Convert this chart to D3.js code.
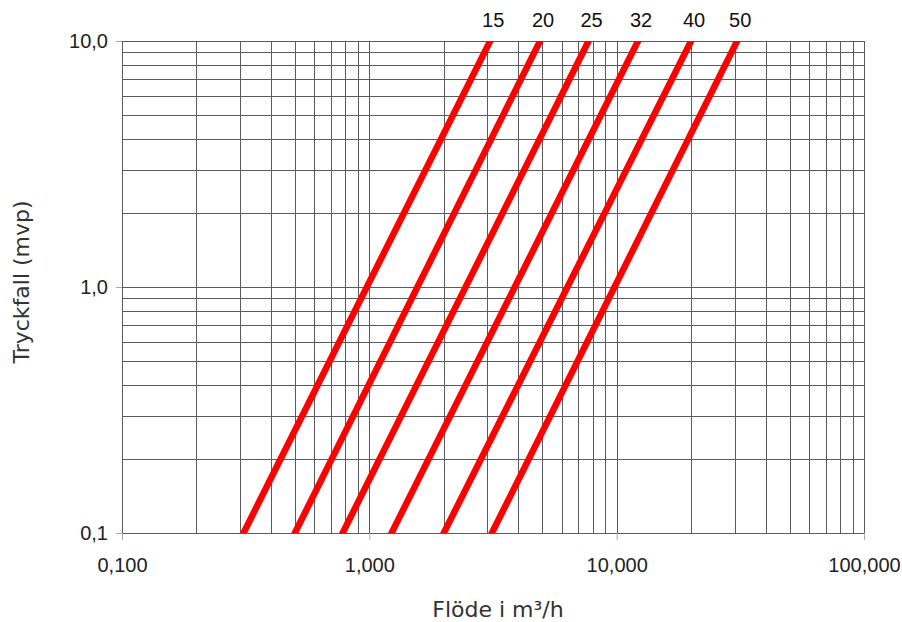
<!DOCTYPE html>
<html>
<head>
<meta charset="utf-8">
<script src="https://cdn.jsdelivr.net/npm/d3@7/dist/d3.min.js"></script>
<style>
  body { margin: 0; background: #fff; }
  svg { display: block; }
</style>
</head>
<body>
<div id="chart"></div>
<script>
// valve sizes (DN) and the flow (m3/h) read where each line hits 0.1 and 10 mvp
var sizes = ["15", "20", "25", "32", "40", "50"];
var flowAtLow = [0.31, 0.50, 0.78, 1.23, 2.0, 3.13];
var flowAtHigh = [3.08, 4.9, 7.7, 12.2, 20.0, 30.7];
var pressureEnds = [0.1, 10];

var xTickValues = [0.1, 1, 10, 100];
var xTickLabels = ["0,100", "1,000", "10,000", "100,000"];
var yTickValues = [0.1, 1, 10];
var yTickLabels = ["0,1", "1,0", "10,0"];

var width = 902, height = 622;
var margin = {top: 41, right: 38, bottom: 89, left: 122};
var plotW = width - margin.left - margin.right;
var plotH = height - margin.top - margin.bottom;

var x = d3.scaleLog().domain([0.1, 100]).range([0, plotW]);
var y = d3.scaleLog().domain([0.1, 10]).range([plotH, 0]);

var svg = d3.select("#chart").append("svg")
  .attr("width", width)
  .attr("height", height);

svg.append("defs").append("clipPath").attr("id", "plotclip")
  .append("rect").attr("width", plotW).attr("height", plotH);

var g = svg.append("g")
  .attr("transform", "translate(" + margin.left + "," + margin.top + ")");

// grid lines: every 1..9 step of each decade
var xGrid = [];
[0.1, 1, 10].forEach(function(d) { for (var i = 1; i <= 10; i++) xGrid.push(d * i); });
var yGrid = [];
[0.1, 1].forEach(function(d) { for (var i = 1; i <= 10; i++) yGrid.push(d * i); });

var snap = function(v) { return Math.round(v) + 0.5; };

g.selectAll(".vgrid").data(xGrid).enter().append("line")
  .attr("class", "vgrid")
  .attr("x1", function(d) { return snap(x(d)); })
  .attr("x2", function(d) { return snap(x(d)); })
  .attr("y1", 0)
  .attr("y2", plotH)
  .attr("stroke", "#5a5a5a")
  .attr("stroke-width", 1);

g.selectAll(".hgrid").data(yGrid).enter().append("line")
  .attr("class", "hgrid")
  .attr("y1", function(d) { return snap(y(d)); })
  .attr("y2", function(d) { return snap(y(d)); })
  .attr("x1", 0)
  .attr("x2", plotW)
  .attr("stroke", "#5a5a5a")
  .attr("stroke-width", 1);

// axes (major ticks only, poking out of the frame)
var xAxis = d3.axisBottom(x).tickValues(xTickValues).tickSize(7).tickPadding(18)
  .tickFormat(function(d, i) { return xTickLabels[i]; });
var yAxis = d3.axisLeft(y).tickValues(yTickValues).tickSize(6).tickPadding(8)
  .tickFormat(function(d, i) { return yTickLabels[i]; });

var xa = g.append("g").attr("transform", "translate(0," + plotH + ")").call(xAxis);
var ya = g.append("g").call(yAxis);
[xa, ya].forEach(function(a) {
  a.select(".domain").remove();
  a.selectAll(".tick line").attr("stroke", "#aaaaaa");
  a.selectAll(".tick text")
    .attr("fill", "#222")
    .style("font-family", "'Liberation Sans', Arial, sans-serif")
    .style("font-size", "20px");
});

// the pressure-drop lines
var lines = sizes.map(function(s, i) {
  return {size: s, pts: [[flowAtLow[i], pressureEnds[0]], [flowAtHigh[i], pressureEnds[1]]]};
});

var line = d3.line()
  .x(function(d) { return x(d[0]); })
  .y(function(d) { return y(d[1]); });

g.append("g").attr("clip-path", "url(#plotclip)")
  .selectAll("path").data(lines).enter().append("path")
  .attr("d", function(d) { return line(d.pts); })
  .attr("fill", "none")
  .attr("stroke", "#ff0000")
  .attr("stroke-width", 6.5)
  .attr("stroke-linecap", "square");

g.selectAll(".size-label").data(lines).enter().append("text")
  .attr("class", "size-label")
  .attr("x", function(d) { return x(d.pts[1][0]) + 3; })
  .attr("y", -14)
  .attr("text-anchor", "middle")
  .attr("fill", "#111")
  .style("font-family", "'Liberation Sans', Arial, sans-serif")
  .style("font-size", "20px")
  .text(function(d) { return d.size; });

// axis titles
svg.append("text")
  .attr("x", 498)
  .attr("y", 617)
  .attr("text-anchor", "middle")
  .attr("fill", "#333")
  .style("font-family", "'DejaVu Sans', sans-serif")
  .style("font-size", "22px")
  .text("Flöde i m³/h");

svg.append("text")
  .attr("transform", "translate(29,282) rotate(-90)")
  .attr("text-anchor", "middle")
  .attr("fill", "#333")
  .style("font-family", "'DejaVu Sans', sans-serif")
  .style("font-size", "22px")
  .text("Tryckfall (mvp)");
</script>
</body>
</html>
